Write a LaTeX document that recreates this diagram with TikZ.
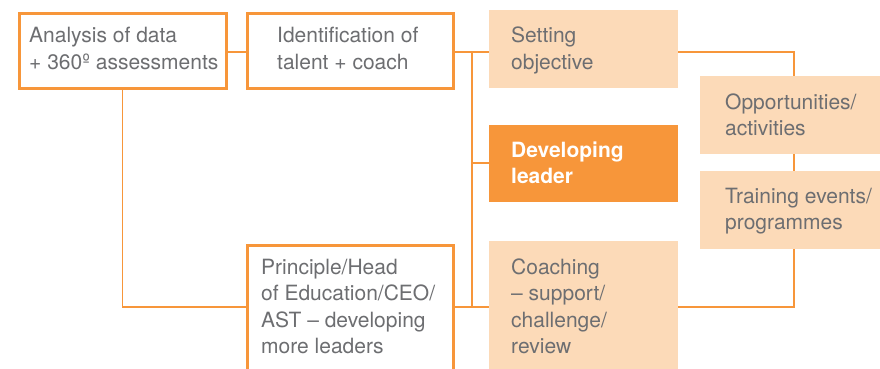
\documentclass[tikz,border=0pt]{standalone}
\usepackage{fontspec}
\setmainfont{TeX Gyre Heros}
\definecolor{brand}{HTML}{F7963A}
\definecolor{peach}{HTML}{FCDAB8}
\definecolor{ink}{HTML}{6D6E71}
% multi-line label whose baseline is the baseline of its first line
\newcommand\boxlines[1]{\vtop{\halign{##\hfil\cr#1\crcr}}}
\tikzset{
  obox/.style={draw=brand, line width=3pt, fill=white, rectangle, inner sep=0pt},
  sbox/.style={fill=peach, rectangle, inner sep=0pt},
  hbox/.style={fill=brand, rectangle, inner sep=0pt},
  label text/.style={anchor=base west, inner sep=0pt, text=ink,
    font=\fontsize{21pt}{26.5pt}\selectfont},
  link/.style={draw=brand, line width=1.5pt},
}
\begin{document}
\begin{tikzpicture}[x=1pt, y=-1pt]
\useasboundingbox (0,0) rectangle (880,369);
\clip (0,0) rectangle (880,369);

% rows and column used by the connectors
\coordinate (r1) at (0,52);
\coordinate (r2) at (0,163);
\coordinate (r3) at (0,307);
\coordinate (bus) at (472,0);

% boxes
\node[obox, minimum width=207pt, minimum height=74pt, anchor=north west] (data) at (17.5,12.5) {};
\node[obox, minimum width=206pt, minimum height=74pt, anchor=north west] (talent) at (245.5,12.5) {};
\node[obox, minimum width=206pt, minimum height=150pt, anchor=north west] (head) at (245.5,243.5) {};
\node[sbox, minimum width=189pt, minimum height=78pt, anchor=north west] (goal) at (489,10) {};
\node[hbox, minimum width=189pt, minimum height=77pt, anchor=north west] (leader) at (489,125) {};
\node[sbox, minimum width=189pt, minimum height=150pt, anchor=north west] (coach) at (489,241) {};
\node[sbox, minimum width=188pt, minimum height=78pt, anchor=north west] (opps) at (700,76) {};
\node[sbox, minimum width=188pt, minimum height=78pt, anchor=north west] (events) at (700,171) {};

% connectors
\draw[link] (data.east |- r1) -- (talent.west |- r1);
\draw[link] (talent.east |- r1) -- (goal.west |- r1);
\draw[link] (bus |- r1) -- (bus |- r3);
\draw[link] (bus |- r2) -- (leader.west |- r2);
\draw[link] (data.south) |- (head.west |- r3);
\draw[link] (head.east |- r3) -- (coach.west |- r3);
\draw[link] (goal.east |- r1) -| (opps.north);
\draw[link] (opps.south) -- (events.north);
\draw[link] (events.south) |- (coach.east |- r3);

% labels
\node[label text] (tdata) at (29,43) {\boxlines{Analysis of data\cr + 360º assessments}};
\node[label text] (ttalent) at (277,43) {\boxlines{Identification of\cr talent + coach}};
\node[label text] (tgoal) at (511,43) {\boxlines{Setting\cr objective}};
\node[label text, text=white, font=\fontsize{21pt}{26.5pt}\selectfont\bfseries] (tleader) at (511,157) {\boxlines{Developing\cr leader}};
\node[label text] (topps) at (725,109) {\boxlines{Opportunities/\cr activities}};
\node[label text] (tevents) at (725,203) {\boxlines{Training events/\cr programmes}};
\node[label text] (thead) at (261,274) {\boxlines{Principle/Head\cr of Education/CEO/\cr AST -- developing\cr more leaders}};
\node[label text] (tcoach) at (511,274) {\boxlines{Coaching\cr -- support/\cr challenge/\cr review}};
\end{tikzpicture}
\end{document}
